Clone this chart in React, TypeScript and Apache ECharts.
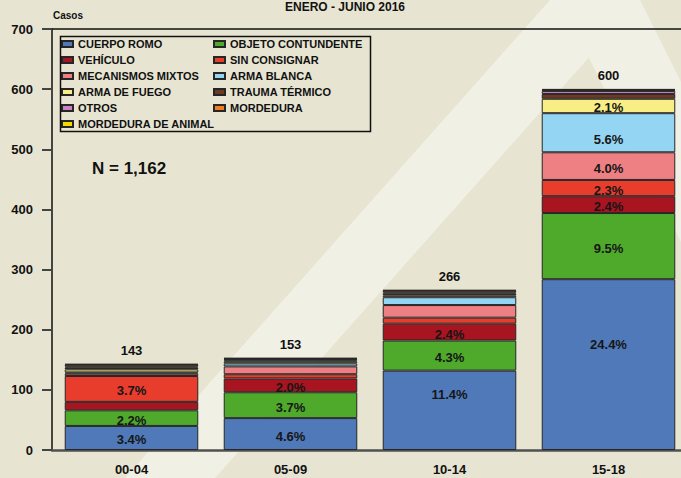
import React, { useEffect, useRef } from "react";
import * as echarts from "echarts";

const categories = ["00-04", "05-09", "10-14", "15-18"];
const yTicks = [0, 100, 200, 300, 400, 500, 600, 700];

const cuerpoRomo = [40, 53, 132, 284];
const objetoContundente = [26, 43, 50, 110];
const vehiculo = [14, 23, 28, 28];
const sinConsignar = [43, 7, 10, 27];
const mecanismosMixtos = [4, 13, 21, 46];
const armaBlanca = [2, 5, 13, 65];
const armaDeFuego = [5, 3, 3, 24];
const traumaTermico = [3, 2, 3, 8];
const otros = [2, 2, 2, 5];
const mordedura = [3, 1, 3, 2];
const mordeduraAnimal = [1, 1, 1, 1];

const seriesDefs = [
  { name: "CUERPO ROMO", data: cuerpoRomo, color: "#5079b9" },
  { name: "OBJETO CONTUNDENTE", data: objetoContundente, color: "#4fa92b" },
  { name: "VEHÍCULO", data: vehiculo, color: "#a8141f" },
  { name: "SIN CONSIGNAR", data: sinConsignar, color: "#e83d2d" },
  { name: "MECANISMOS MIXTOS", data: mecanismosMixtos, color: "#ee7f82" },
  { name: "ARMA BLANCA", data: armaBlanca, color: "#94d5f3" },
  { name: "ARMA DE FUEGO", data: armaDeFuego, color: "#f8ee85" },
  { name: "TRAUMA TÉRMICO", data: traumaTermico, color: "#6b3b24" },
  { name: "OTROS", data: otros, color: "#cc80c2" },
  { name: "MORDEDURA", data: mordedura, color: "#f07e20" },
  { name: "MORDEDURA DE ANIMAL", data: mordeduraAnimal, color: "#f4d800" },
];

const legendCol1 = ["CUERPO ROMO", "VEHÍCULO", "MECANISMOS MIXTOS", "ARMA DE FUEGO", "OTROS", "MORDEDURA DE ANIMAL"];
const legendCol2 = ["OBJETO CONTUNDENTE", "SIN CONSIGNAR", "ARMA BLANCA", "TRAUMA TÉRMICO", "MORDEDURA"];

// label vertical offsets (style) keyed "series-category"
const labelOffsets: Record<string, number> = { "0-2": -18, "0-3": -22, "5-3": 5 };

const FONT = "'Liberation Sans', Arial, sans-serif";

export default function App() {
  const ref = useRef<HTMLDivElement>(null);
  useEffect(() => {
    if (!ref.current) return;
    const chart = echarts.init(ref.current, null, { renderer: "svg" });
    const totals = categories.map((_, i) => seriesDefs.reduce((s, d) => s + d.data[i], 0));
    const N = totals.reduce((a, b) => a + b, 0);

    const barSeries = seriesDefs.map((d, si) => ({
      name: d.name,
      type: "bar",
      stack: "total",
      barWidth: "84%",
      itemStyle: { color: d.color, borderColor: "#262626", borderWidth: 1 },
      data: d.data.map((v, ci) => {
        const pct = Math.round((v / N) * 1000) / 10;
        return {
          value: v,
          label: {
            show: pct >= 2.0,
            offset: [0, 2 + (labelOffsets[`${si}-${ci}`] || 0)],
          },
        };
      }),
      label: {
        position: "inside",
        formatter: (p: any) => ((p.value / N) * 100).toFixed(1) + "%",
        fontFamily: FONT,
        fontWeight: "bold",
        fontSize: 13,
        color: "#161616",
      },
    }));

    const option: any = {
      animation: false,
      backgroundColor: "#e7e5d1",
      textStyle: { fontFamily: FONT },
      grid: { left: 52, width: 636, top: 29, bottom: 28, containLabel: false, outerBoundsMode: "none" },
      graphic: [
        {
          type: "polygon",
          z: -10,
          silent: true,
          shape: { points: [[550, 0], [640, 0], [215, 478], [125, 478]] },
          style: { fill: "#f1f0e5" },
        },
        {
          type: "polygon",
          z: -10,
          silent: true,
          shape: { points: [[560, 0], [640, 0], [681, 82], [681, 242]] },
          style: { fill: "#f1f0e5" },
        },
        {
          type: "text",
          left: 92,
          top: 160,
          style: { text: "N = 1,162", fontFamily: FONT, fontWeight: "bold", fontSize: 17, fill: "#111" },
        },
        {
          type: "text",
          left: 53,
          top: 10,
          style: { text: "Casos", fontFamily: FONT, fontWeight: "bold", fontSize: 10, fill: "#111" },
        },
        {
          type: "text",
          x: 345,
          y: 1,
          style: {
            text: "ENERO - JUNIO 2016",
            fontFamily: FONT,
            fontWeight: "bold",
            fontSize: 12,
            fill: "#111",
            align: "center",
            verticalAlign: "top",
          },
        },
        {
          type: "rect",
          shape: { x: 60.5, y: 36.5, width: 310, height: 95 },
          style: { fill: "none", stroke: "#111", lineWidth: 1.5 },
          z: 5,
        },
      ],
      legend: [
        {
          data: legendCol1,
          orient: "vertical",
          left: 61,
          top: 38,
          itemWidth: 11,
          itemHeight: 6,
          itemGap: 4,
          padding: 0,
          icon: "rect",
          textStyle: { fontFamily: FONT, fontWeight: "bold", fontSize: 11, color: "#111", lineHeight: 12 },
        },
        {
          data: legendCol2,
          orient: "vertical",
          left: 213,
          top: 38,
          itemWidth: 11,
          itemHeight: 6,
          itemGap: 4,
          padding: 0,
          icon: "rect",
          textStyle: { fontFamily: FONT, fontWeight: "bold", fontSize: 11, color: "#111", lineHeight: 12 },
        },
      ],
      xAxis: [
        {
          type: "category",
          data: categories,
          axisLine: { lineStyle: { color: "#505050", width: 2.5 } },
          axisTick: { alignWithLabel: true, length: 8, lineStyle: { color: "#111", width: 1 } },
          axisLabel: { margin: 13, fontFamily: FONT, fontWeight: "bold", fontSize: 13, color: "#111" },
        },
        {
          type: "category",
          data: categories,
          position: "top",
          axisLine: { lineStyle: { color: "#111", width: 1.5 } },
          axisTick: { show: false },
          axisLabel: { show: false },
        },
      ],
      yAxis: {
        type: "value",
        min: yTicks[0],
        max: yTicks[yTicks.length - 1],
        interval: 100,
        axisLine: { show: true, lineStyle: { color: "#111", width: 1.5 } },
        axisTick: { show: true, length: 10, lineStyle: { color: "#444", width: 2 } },
        splitLine: { show: false },
        axisLabel: { margin: 19, fontFamily: FONT, fontWeight: "bold", fontSize: 13, color: "#111" },
      },
      series: [
        ...barSeries,
        {
          name: "TOTAL",
          type: "scatter",
          symbolSize: 0,
          itemStyle: { opacity: 1 },
          data: totals,
          label: {
            show: true,
            position: "top",
            distance: 7,
            fontFamily: FONT,
            fontWeight: "bold",
            fontSize: 13,
            color: "#111",
          },
          z: 10,
        },
      ],
    };
    chart.setOption(option);
    return () => chart.dispose();
  }, []);
  return <div ref={ref} style={{ position: "fixed", left: 0, top: 0, width: 681, height: 478 }} />;
}
